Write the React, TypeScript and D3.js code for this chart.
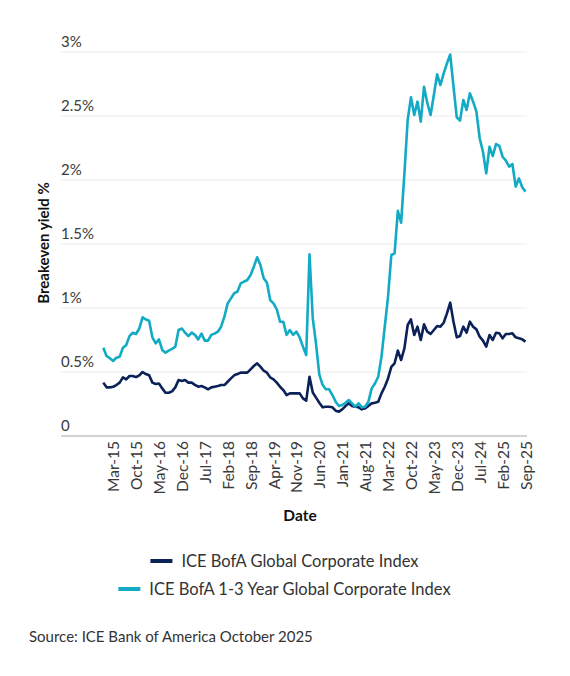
import { useRef, useEffect } from "react";
import * as d3 from "d3";

// monthly points, Dec-14 .. Sep-25
const startMonth = new Date(2014, 11, 1);
const endMonth = new Date(2025, 8, 1);
const months = d3.timeMonth.range(startMonth, d3.timeMonth.offset(endMonth, 1));
const fmtMonth = d3.timeFormat("%b-%y");
const categories = months.map(d => fmtMonth(d));

const tickLabels = [
    "Mar-15", "Oct-15", "May-16", "Dec-16", "Jul-17", "Feb-18", "Sep-18", "Apr-19", "Nov-19", "Jun-20",
    "Jan-21", "Aug-21", "Mar-22", "Oct-22", "May-23", "Dec-23", "Jul-24", "Feb-25", "Sep-25",
];

const yTicks = [0, 0.5, 1, 1.5, 2, 2.5, 3];

const globalCorp = [
    0.417, 0.38, 0.38, 0.385, 0.398, 0.417, 0.458, 0.443, 0.469, 0.469,
    0.46, 0.474, 0.5, 0.484, 0.474, 0.417, 0.406, 0.41, 0.372, 0.338,
    0.338, 0.349, 0.38, 0.437, 0.43, 0.437, 0.417, 0.417, 0.4, 0.385,
    0.39, 0.38, 0.365, 0.38, 0.385,
    0.39, 0.398, 0.398, 0.424, 0.45, 0.474, 0.484, 0.495, 0.495, 0.495,
    0.521, 0.547, 0.568, 0.542, 0.51, 0.495, 0.458, 0.443, 0.417, 0.385,
    0.359, 0.32, 0.333, 0.333, 0.333, 0.333, 0.294, 0.276,
    0.463, 0.34, 0.3, 0.26, 0.224, 0.229, 0.229, 0.224, 0.198, 0.19,
    0.208, 0.234, 0.255, 0.234, 0.229, 0.224, 0.208, 0.216, 0.234, 0.255,
    0.26, 0.268, 0.333, 0.385, 0.45,
    0.54, 0.568, 0.667, 0.594, 0.685, 0.867, 0.911, 0.789, 0.854, 0.75,
    0.872, 0.815, 0.797, 0.828, 0.859, 0.854, 0.885, 0.958, 1.042, 0.893,
    0.771, 0.781, 0.854, 0.807, 0.893, 0.854, 0.833, 0.776, 0.745, 0.698,
    0.789, 0.75, 0.807, 0.802, 0.763, 0.797, 0.797, 0.802, 0.771, 0.763,
    0.755, 0.737,
];

const shortCorp = [
    0.69, 0.625, 0.607, 0.586, 0.612, 0.62, 0.69, 0.71, 0.78, 0.807,
    0.797, 0.84, 0.927, 0.91, 0.9, 0.77, 0.724, 0.755, 0.672, 0.651,
    0.667, 0.68, 0.698, 0.828, 0.84, 0.807, 0.78, 0.807, 0.79, 0.755,
    0.8, 0.745, 0.745, 0.79, 0.8,
    0.815, 0.854, 0.932, 1.036, 1.075, 1.115, 1.128, 1.193, 1.206, 1.219,
    1.258, 1.323, 1.396, 1.336, 1.232, 1.198, 1.062, 1.036, 0.99, 0.893,
    0.893, 0.79, 0.828, 0.79, 0.815, 0.77, 0.698, 0.633,
    1.42, 0.92, 0.72, 0.48, 0.4, 0.365, 0.365, 0.32, 0.268, 0.234,
    0.242, 0.26, 0.281, 0.255, 0.229, 0.255, 0.224, 0.229, 0.268, 0.372,
    0.41, 0.463, 0.62, 0.854, 1.088,
    1.414, 1.427, 1.76, 1.667, 2.05, 2.469, 2.646, 2.508, 2.612, 2.456,
    2.729, 2.6, 2.508, 2.664, 2.826, 2.742, 2.833, 2.911, 2.98, 2.73,
    2.49, 2.464, 2.625, 2.547, 2.677, 2.612, 2.534, 2.326, 2.221, 2.052,
    2.26, 2.187, 2.281, 2.266, 2.182, 2.151, 2.104, 2.125, 1.948, 2.013,
    1.943, 1.909,
];

const seriesNames = ["ICE BofA Global Corporate Index", "ICE BofA 1-3 Year Global Corporate Index"];
const seriesColors = ["#0b2258", "#12aac5"];

export default function App() {
    const svgRef = useRef<SVGSVGElement | null>(null);

    useEffect(() => {
        if (!svgRef.current) return;
        const svg = d3.select(svgRef.current);
        svg.selectAll("*").remove();

        const width = 570;
        const font = "Lato, 'Noto Sans', sans-serif";
        const plot = { left: 61, right: 527, top: 52, bottom: 436 };

        const x = d3.scalePoint<string>()
            .domain(categories)
            .range([103.3, 525.5]);

        const y = d3.scaleLinear()
            .domain([0, 3])
            .range([plot.bottom, plot.top]);

        // gridlines + y labels sitting above them
        const grid = svg.append("g");
        grid.selectAll("line")
            .data(yTicks.filter(t => t > 0))
            .enter()
            .append("line")
            .attr("x1", plot.left)
            .attr("x2", plot.right)
            .attr("y1", d => y(d))
            .attr("y2", d => y(d))
            .attr("stroke", "#ebebeb")
            .attr("stroke-width", 1);

        grid.selectAll("text")
            .data(yTicks)
            .enter()
            .append("text")
            .attr("x", plot.left)
            .attr("y", d => y(d) - 5)
            .attr("font-family", font)
            .attr("font-size", 15)
            .attr("fill", "#3a3a3a")
            .text(d => (d === 0 ? "0" : `${d}%`));

        // x axis
        const xAxis = svg.append("g")
            .attr("transform", `translate(0,${plot.bottom})`)
            .call(d3.axisBottom(x).tickValues(tickLabels).tickSize(0));
        xAxis.select(".domain")
            .attr("d", `M${plot.left},0H${plot.right}`)
            .attr("stroke", "#a8a8a8")
            .attr("stroke-width", 1.2);
        xAxis.selectAll("text")
            .attr("transform", "rotate(-90)")
            .attr("x", -5)
            .attr("y", 0)
            .attr("dy", "0.36em")
            .attr("text-anchor", "end")
            .attr("font-family", font)
            .attr("font-size", 15.5)
            .attr("fill", "#3a3a3a");

        // lines
        const line = d3.line<number>()
            .x((_, i) => x(categories[i])!)
            .y(d => y(d));

        [globalCorp, shortCorp].forEach((vals, k) => {
            svg.append("path")
                .datum(vals)
                .attr("d", line)
                .attr("fill", "none")
                .attr("stroke", seriesColors[k])
                .attr("stroke-width", 2.6)
                .attr("stroke-linejoin", "round");
        });

        // axis titles
        svg.append("text")
            .attr("transform", `translate(49,243) rotate(-90)`)
            .attr("text-anchor", "middle")
            .attr("font-family", font)
            .attr("font-weight", 700)
            .attr("font-size", 15)
            .attr("fill", "#111")
            .text("Breakeven yield %");

        svg.append("text")
            .attr("x", 300)
            .attr("y", 521)
            .attr("text-anchor", "middle")
            .attr("font-family", font)
            .attr("font-weight", 700)
            .attr("font-size", 15.5)
            .attr("fill", "#111")
            .text("Date");

        // legend, each row centred
        const legendRows = [561, 589];
        seriesNames.forEach((name, k) => {
            const g = svg.append("g");
            const txt = g.append("text")
                .attr("x", 31)
                .attr("y", 0)
                .attr("dy", "0.35em")
                .attr("font-family", font)
                .attr("font-size", 16.5)
                .attr("fill", "#333")
                .text(name);
            g.append("line")
                .attr("x1", 0)
                .attr("x2", 22)
                .attr("stroke", seriesColors[k])
                .attr("stroke-width", 4);
            const w = 31 + (txt.node() as SVGTextElement).getComputedTextLength();
            g.attr("transform", `translate(${284.5 - w / 2},${legendRows[k]})`);
        });

        svg.append("text")
            .attr("x", 29)
            .attr("y", 642)
            .attr("font-family", font)
            .attr("font-size", 15)
            .attr("fill", "#333")
            .text("Source: ICE Bank of America October 2025");

        void width;
    }, []);

    return (
        <svg
            ref={svgRef}
            width={570}
            height={676}
            style={{ position: "absolute", left: 0, top: 0, background: "#fff" }}
        />
    );
}
